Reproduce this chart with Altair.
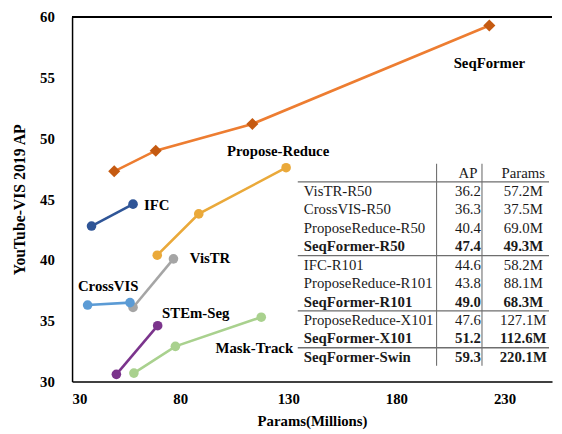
import altair as alt
import pandas as pd

# ---- series values (Params in millions, YouTube-VIS 2019 AP) ----
seqformer_params = [49.5, 68.7, 113.4, 223.0]
seqformer_ap = [47.3, 49.0, 51.2, 59.3]
propose_params = [69.4, 88.6, 129.0]
propose_ap = [40.4, 43.8, 47.6]
ifc_params = [39.0, 58.2]
ifc_ap = [42.8, 44.6]
vistr_params = [58.2, 76.9]
vistr_ap = [36.1, 40.1]
crossvis_params = [37.2, 56.8]
crossvis_ap = [36.3, 36.5]
stem_params = [50.5, 69.6]
stem_ap = [30.6, 34.6]
mask_params = [58.6, 77.8, 117.5]
mask_ap = [30.7, 32.9, 35.3]

series_names = ["SeqFormer", "Propose-Reduce", "IFC", "VisTR", "CrossVIS", "STEm-Seg", "Mask-Track"]
series_params = [seqformer_params, propose_params, ifc_params, vistr_params,
                 crossvis_params, stem_params, mask_params]
series_ap = [seqformer_ap, propose_ap, ifc_ap, vistr_ap, crossvis_ap, stem_ap, mask_ap]
line_colors = ["#ED7D31", "#EAA93A", "#2F5597", "#A5A5A5", "#5B9BD5", "#7B348C", "#A9D18E"]

# label anchors (data units)
label_x = [223.0, 125.3, 69.2, 93.8, 46.7, 87.2, 114.3]
label_y = [56.2, 48.95, 44.5, 40.16, 37.9, 35.65, 32.8]

# ---- table values ----
table_header = ["AP", "Params"]
table_names = ["VisTR-R50", "CrossVIS-R50", "ProposeReduce-R50", "SeqFormer-R50",
               "IFC-R101", "ProposeReduce-R101", "SeqFormer-R101",
               "ProposeReduce-X101", "SeqFormer-X101", "SeqFormer-Swin"]
table_ap = ["36.2", "36.3", "40.4", "47.4", "44.6", "43.8", "49.0", "47.6", "51.2", "59.3"]
table_params = ["57.2M", "37.5M", "69.0M", "49.3M", "58.2M", "88.1M", "68.3M",
                "127.1M", "112.6M", "220.1M"]
table_bold = [False, False, False, True, False, False, True, False, True, True]
table_group_ends = [0, 4, 7, 9]  # separator lines after these rows

FONT = "Liberation Serif"
W, H = 487, 370

rows = []
for name, px, ay in zip(series_names, series_params, series_ap):
    for i, (p, a) in enumerate(zip(px, ay)):
        rows.append({"series": name, "params": p, "ap": a, "order": i})
df = pd.DataFrame(rows)

labels_df = pd.DataFrame({"series": series_names, "params": label_x, "ap": label_y})

color_scale = alt.Scale(domain=series_names, range=line_colors)
xs = alt.Scale(domain=[30, 252], nice=False, zero=False)
ys = alt.Scale(domain=[30, 60], nice=False, zero=False)

base = alt.Chart(df)
lines = base.mark_line(strokeWidth=2.6).encode(
    x=alt.X("params:Q", scale=xs, title="Params(Millions)",
            axis=alt.Axis(values=[30, 80, 130, 180, 230], labelPadding=10, titlePadding=8)),
    y=alt.Y("ap:Q", scale=ys, title="YouTube-VIS 2019  AP",
            axis=alt.Axis(values=[30, 35, 40, 45, 50, 55, 60], labelPadding=18,
                          titlePadding=12, titleFontSize=16)),
    color=alt.Color("series:N", scale=color_scale, legend=None),
    order="order:Q",
    detail="series:N",
)
circles = base.transform_filter(alt.datum.series != "SeqFormer").mark_point(
    shape="circle", filled=True, size=95, opacity=1
).encode(
    x="params:Q", y="ap:Q",
    color=alt.Color("series:N", scale=color_scale, legend=None),
)
diamonds = base.transform_filter(alt.datum.series == "SeqFormer").mark_point(
    shape="diamond", filled=True, size=150, opacity=1, color="#C55A11"
).encode(x="params:Q", y="ap:Q")

labels = alt.Chart(labels_df).mark_text(
    font=FONT, fontSize=15, fontWeight="bold", color="black", align="center", baseline="middle"
).encode(x="params:Q", y="ap:Q", text="series:N")

top_border = alt.Chart(df).mark_rule(color="black", strokeWidth=1.5).encode(
    x=alt.value(0), x2=alt.value(W), y=alt.value(0)
)

main = alt.layer(lines, circles, diamonds, labels, top_border)

# ---- table ----
trows = [{"row": 0, "name": "", "ap": table_header[0], "params": table_header[1], "bold": False}]
for i, (n, a, p, b) in enumerate(zip(table_names, table_ap, table_params, table_bold)):
    trows.append({"row": i + 1, "name": n, "ap": a, "params": p, "bold": b})
tdf = pd.DataFrame(trows)

ry = alt.Scale(domain=[-8.449, 11.337], reverse=True, nice=False, zero=False)
tbase = alt.Chart(tdf)
TCOL = "#1a1a1a"

def tcol(field, xpos, align, bold):
    return tbase.transform_filter(
        alt.datum.bold if bold else ~alt.datum.bold
    ).mark_text(
        font=FONT, fontSize=15, fontWeight="bold" if bold else "normal",
        color=TCOL, align=align, baseline="middle"
    ).encode(
        x=alt.X(datum=xpos),
        y=alt.Y("row:Q", scale=ry, axis=None),
        text=f"{field}:N",
    )

tlayers = []
for b in (False, True):
    tlayers.append(tcol("name", 137.2, "left", b))
    tlayers.append(tcol("ap", 213.1, "center", b))
    tlayers.append(tcol("params", 238.7, "center", b))

hl_df = pd.DataFrame({"row": [g + 0.5 for g in table_group_ends]})
hlines = alt.Chart(hl_df).mark_rule(color="#6e6e6e", strokeWidth=1.3).encode(
    x=alt.X(datum=134.4), x2=alt.X2(datum=250.6),
    y=alt.Y("row:Q", scale=ry, axis=None),
)
vl_df = pd.DataFrame({"col": [198.6, 219.6]})
vlines = alt.Chart(vl_df).mark_rule(color="#6e6e6e", strokeWidth=1.1).encode(
    x=alt.X("col:Q"),
    y=alt.Y(datum=-0.48, scale=ry, axis=None),
    y2=alt.Y2(datum=10.48),
)

table = alt.layer(hlines, vlines, *tlayers)

chart = alt.layer(main, table).resolve_scale(y="independent").properties(
    width=W, height=H,
    autosize=alt.AutoSizeParams(type="none"),
    padding={"left": 65, "top": 6, "right": 2, "bottom": 46},
).configure_view(stroke=None).configure_axis(
    grid=False, ticks=False, domainColor="black", domainWidth=1.5,
    labelFont=FONT, labelFontSize=15, labelFontWeight="bold", labelColor="black",
    titleFont=FONT, titleFontSize=15, titleFontWeight="bold", titleColor="black",
)

chart.save("out.html", embed_options={"renderer": "svg", "actions": False})
